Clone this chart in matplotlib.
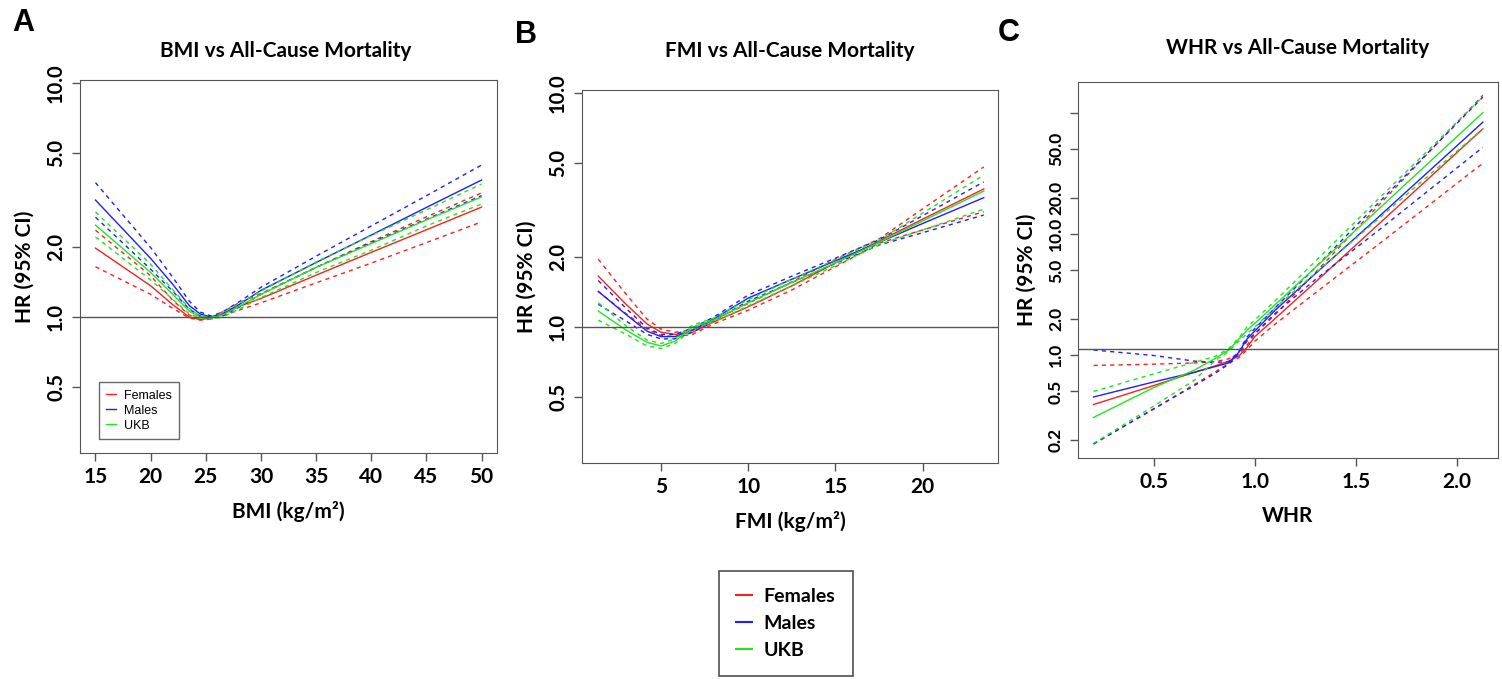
import numpy as np
import matplotlib
matplotlib.use('Agg')
import matplotlib.pyplot as plt
from matplotlib.lines import Line2D

plt.rcParams['font.family'] = ['Lato', 'DejaVu Sans']

groups = ['Females', 'Males', 'UKB']
colors = ['#ff1e1e', '#1e1eff', '#1ee61e']

# --- A: BMI ---
bmi_x = [15, 20, 22, 23.5, 24.5, 25.5, 26.5, 28, 30, 35, 40, 45, 50]
bmi_est = {
    'Females': [1.97, 1.36, 1.13, 1.00, 0.975, 0.99, 1.03, 1.11, 1.20, 1.51, 1.89, 2.36, 2.95],
    'Males':   [3.16, 1.78, 1.38, 1.12, 1.03, 1.00, 1.03, 1.13, 1.30, 1.71, 2.24, 2.94, 3.85],
    'UKB':     [2.47, 1.55, 1.25, 1.06, 1.00, 0.99, 1.02, 1.11, 1.25, 1.63, 2.06, 2.60, 3.26],
}
bmi_lo = {
    'Females': [1.64, 1.25, 1.09, 0.99, 0.97, 0.98, 1.01, 1.07, 1.15, 1.40, 1.70, 2.08, 2.55],
    'Males':   [2.67, 1.60, 1.29, 1.08, 1.01, 0.99, 1.01, 1.10, 1.25, 1.63, 2.08, 2.62, 3.30],
    'UKB':     [2.20, 1.44, 1.19, 1.03, 0.99, 0.98, 1.00, 1.08, 1.21, 1.55, 1.93, 2.45, 3.04],
}
bmi_hi = {
    'Females': [2.35, 1.50, 1.18, 1.02, 0.985, 1.00, 1.05, 1.15, 1.26, 1.63, 2.10, 2.68, 3.39],
    'Males':   [3.75, 1.98, 1.48, 1.17, 1.05, 1.01, 1.05, 1.16, 1.34, 1.82, 2.45, 3.30, 4.46],
    'UKB':     [2.81, 1.68, 1.31, 1.09, 1.01, 1.00, 1.04, 1.14, 1.29, 1.72, 2.23, 2.87, 3.70],
}

# --- B: FMI ---
fmi_x = [1.4, 3, 4.2, 5, 5.8, 6.8, 8, 10, 12.5, 15, 17.5, 20, 23.5]
fmi_est = {
    'Females': [1.65, 1.25, 1.03, 0.95, 0.93, 0.95, 1.05, 1.22, 1.50, 1.88, 2.33, 2.89, 3.89],
    'Males':   [1.42, 1.13, 0.96, 0.91, 0.91, 0.97, 1.08, 1.33, 1.60, 1.92, 2.30, 2.77, 3.57],
    'UKB':     [1.17, 0.97, 0.86, 0.83, 0.87, 1.00, 1.07, 1.27, 1.55, 1.88, 2.30, 2.84, 3.81],
}
fmi_lo = {
    'Females': [1.42, 1.14, 0.98, 0.92, 0.91, 0.93, 1.03, 1.18, 1.44, 1.81, 2.28, 2.60, 3.11],
    'Males':   [1.25, 1.06, 0.93, 0.89, 0.89, 0.95, 1.06, 1.29, 1.55, 1.87, 2.24, 2.53, 3.01],
    'UKB':     [1.07, 0.93, 0.83, 0.81, 0.85, 0.98, 1.05, 1.23, 1.50, 1.83, 2.25, 2.60, 3.19],
}
fmi_hi = {
    'Females': [1.95, 1.38, 1.08, 0.98, 0.95, 0.97, 1.07, 1.26, 1.56, 1.95, 2.38, 3.20, 4.83],
    'Males':   [1.58, 1.20, 0.99, 0.93, 0.93, 0.99, 1.10, 1.37, 1.65, 1.97, 2.36, 2.99, 4.17],
    'UKB':     [1.27, 1.01, 0.88, 0.85, 0.89, 1.02, 1.09, 1.31, 1.60, 1.94, 2.35, 3.07, 4.46],
}

# --- C: WHR ---
whr_x = [0.2, 0.5, 0.7, 0.8, 0.87, 0.92, 0.96, 1.0, 1.1, 1.3, 1.6, 2.13]
whr_est = {
    'Females': [0.39, 0.56, 0.72, 0.81, 0.89, 0.98, 1.15, 1.42, 2.0, 4.0, 11.5, 73.8],
    'Males':   [0.45, 0.60, 0.72, 0.80, 0.86, 1.05, 1.35, 1.58, 2.34, 4.7, 13.2, 83.8],
    'UKB':     [0.305, 0.54, 0.75, 0.93, 1.10, 1.35, 1.6, 1.83, 2.6, 5.3, 15.3, 100.5],
}
whr_lo = {
    'Females': [0.184, 0.36, 0.57, 0.72, 0.85, 0.95, 1.10, 1.30, 1.80, 3.26, 7.9, 38.4],
    'Males':   [0.184, 0.36, 0.56, 0.70, 0.84, 1.03, 1.30, 1.50, 2.20, 4.2, 10.3, 52],
    'UKB':     [0.186, 0.38, 0.62, 0.89, 1.07, 1.30, 1.50, 1.70, 2.45, 4.75, 12.8, 74],
}
whr_hi = {
    'Females': [0.82, 0.84, 0.86, 0.88, 0.93, 1.02, 1.20, 1.50, 2.15, 4.8, 16.3, 140],
    'Males':   [1.10, 0.99, 0.89, 0.87, 0.88, 1.07, 1.40, 1.66, 2.45, 5.3, 17.2, 135],
    'UKB':     [0.50, 0.70, 0.87, 0.97, 1.13, 1.38, 1.70, 1.95, 2.80, 5.96, 18.6, 136],
}

panels = [
    dict(letter='A', title='BMI vs All-Cause Mortality', xlabel='BMI (kg/m²)',
         x=bmi_x, est=bmi_est, lo=bmi_lo, hi=bmi_hi, ref=1.0,
         pos=[0.0533, 0.3328, 0.2776, 0.5494], xlim=(13.6, 51.4), ylim=(0.2624, 10.3),
         xticks=[15, 20, 25, 30, 35, 40, 45, 50], yfs=14.5,
         yticks=[0.5, 1, 2, 5, 10], ylabels=['0.5', '1.0', '2.0', '5.0', '10.0']),
    dict(letter='B', title='FMI vs All-Cause Mortality', xlabel='FMI (kg/m²)',
         x=fmi_x, est=fmi_est, lo=fmi_lo, hi=fmi_hi, ref=1.0,
         pos=[0.3875, 0.3181, 0.2770, 0.5494], xlim=(0.47, 24.32), ylim=(0.2624, 10.3),
         xticks=[5, 10, 15, 20], yfs=14.5,
         yticks=[0.5, 1, 2, 5, 10], ylabels=['0.5', '1.0', '2.0', '5.0', '10.0']),
    dict(letter='C', title='WHR vs All-Cause Mortality', xlabel='WHR',
         x=whr_x, est=whr_est, lo=whr_lo, hi=whr_hi, ref=1.12,
         pos=[0.7177, 0.3255, 0.2796, 0.5537], xlim=(0.123, 2.205), ylim=(0.141, 180),
         xticks=[0.5, 1.0, 1.5, 2.0], yfs=12.5,
         yticks=[0.2, 0.5, 1, 2, 5, 10, 20, 50, 100],
         ylabels=['0.2', '0.5', '1.0', '2.0', '5.0', '10.0', '20.0', '50.0', '']),
]

fig = plt.figure(figsize=(15.02, 6.79), dpi=100)

letter_pos = [(0.008, 0.966), (0.343, 0.948), (0.664, 0.951)]
title_pos = [(0.19, 0.925), (0.526, 0.925), (0.864, 0.93)]

for i, p in enumerate(panels):
    ax = fig.add_axes(p['pos'])
    for g, c in zip(groups, colors):
        ax.plot(p['x'], p['est'][g], color=c, lw=1.0)
        ax.plot(p['x'], p['lo'][g], color=c, lw=1.0, dashes=(3, 3))
        ax.plot(p['x'], p['hi'][g], color=c, lw=1.0, dashes=(3, 3))
    ax.axhline(p['ref'], color='#555555', lw=1.0)
    ax.set_yscale('log')
    ax.set_xlim(*p['xlim'])
    ax.set_ylim(*p['ylim'])
    ax.set_xticks(p['xticks'])
    ax.set_xticklabels([f'{t:g}' if p['letter'] != 'C' else f'{t:.1f}' for t in p['xticks']],
                       fontsize=15, fontweight='bold')
    ax.yaxis.set_minor_locator(matplotlib.ticker.NullLocator())
    ax.set_yticks(p['yticks'])
    ax.set_yticklabels(p['ylabels'], fontsize=p['yfs'], fontweight='bold', rotation=90, va='center')
    ax.tick_params(length=6, width=1, color='#555555', pad=4)
    for s in ax.spines.values():
        s.set_color('#555555')
    ax.set_xlabel(p['xlabel'], fontsize=15, fontweight='bold', labelpad=10)
    ax.set_ylabel('HR (95% CI)', fontsize=15, fontweight='bold', labelpad=8)
    fig.text(*title_pos[i], p['title'], fontsize=15, fontweight='bold', ha='center', va='center')
    fig.text(*letter_pos[i], p['letter'], fontsize=22, fontweight='bold', ha='left', va='center',
             family=['Liberation Sans', 'DejaVu Sans'])
    if p['letter'] == 'A':
        handles = [Line2D([], [], color=c, lw=1) for c in colors]
        leg = ax.legend(handles, groups, loc='lower left', bbox_to_anchor=(0.03, 0.02),
                        handlelength=0.8, handletextpad=0.6, frameon=True,
                        fancybox=False, edgecolor='#444444', borderpad=0.6, labelspacing=0.25,
                        prop={'family': ['Liberation Sans', 'DejaVu Sans'], 'size': 9})
        leg.get_frame().set_linewidth(1.0)

handles = [Line2D([], [], color=c, lw=1.5) for c in colors]
leg = fig.legend(handles, groups, loc='center', bbox_to_anchor=(0.523, 0.082),
                 handlelength=0.8, handletextpad=0.6, frameon=True, fancybox=False,
                 edgecolor='#222222', borderpad=0.9, labelspacing=0.5,
                 prop={'family': ['Lato', 'DejaVu Sans'], 'size': 14, 'weight': 'bold'})
leg.get_frame().set_linewidth(1.2)

plt.savefig('out.png', dpi=100)
